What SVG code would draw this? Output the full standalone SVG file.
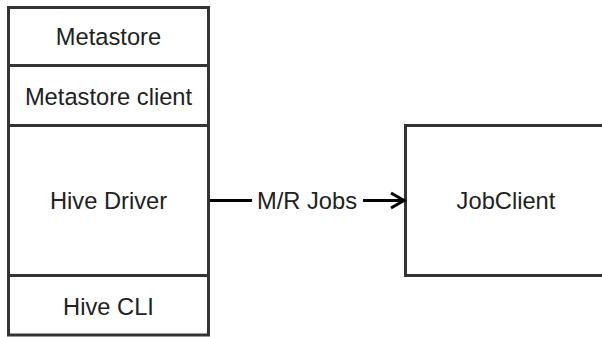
<svg xmlns="http://www.w3.org/2000/svg" width="602" height="337" viewBox="0 0 602 337">
<style>
.box{fill:#fff;stroke:#333;stroke-width:3}
.lbl{font-family:"Liberation Sans",Arial,sans-serif;font-size:23.7px;fill:#222;text-anchor:middle}
.conn{stroke:#000;stroke-width:3;fill:none}
</style>
<rect width="602" height="337" fill="#fff"/>
<g id="metastore">
<rect class="box" x="8.5" y="7.5" width="200" height="58"/>
<text class="lbl" x="108.5" y="45">Metastore</text>
</g>
<g id="metastore-client">
<rect class="box" x="8.5" y="65.5" width="200" height="60"/>
<text class="lbl" x="108.5" y="105">Metastore client</text>
</g>
<g id="hive-driver">
<rect class="box" x="8.5" y="125.5" width="200" height="150"/>
<text class="lbl" x="108.5" y="209">Hive Driver</text>
</g>
<g id="hive-cli">
<rect class="box" x="8.5" y="275.5" width="200" height="59.5"/>
<text class="lbl" x="108.5" y="315">Hive CLI</text>
</g>
<g id="jobclient">
<rect class="box" x="405.5" y="125.5" width="200" height="150"/>
<text class="lbl" x="506" y="209">JobClient</text>
</g>
<g id="connectors">
<path class="conn" d="M210,200.5 H252 M363,200.5 H403"/>
<path class="conn" d="M391,193 L404,200.5 L391,208"/>
<text class="lbl" x="307" y="209">M/R Jobs</text>
</g>
</svg>
